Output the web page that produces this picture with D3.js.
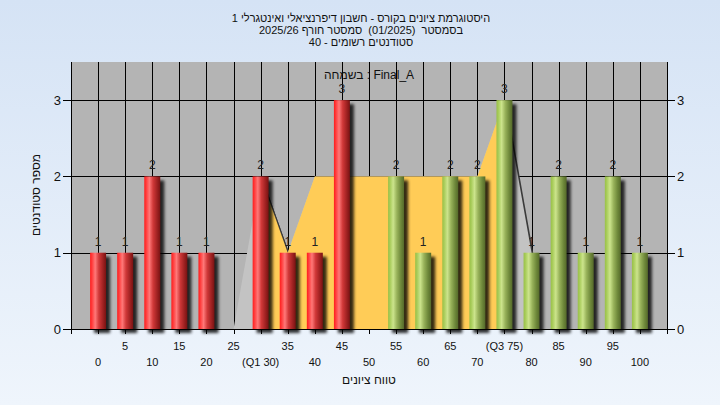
<!DOCTYPE html>
<html><head><meta charset="utf-8">
<script src="https://cdn.jsdelivr.net/npm/d3@7"></script>
<style>html,body{margin:0;padding:0;} svg{display:block;}</style>
</head><body>
<script>
const categories = [0,5,10,15,20,25,30,35,40,45,50,55,60,65,70,75,80,85,90,95,100];
const counts     = [1,1,2,1,1,0,2,1,1,3,0,2,1,2,2,3,1,2,1,2,1];
const tickLabels = ["0","5","10","15","20","25","(Q1 30)","35","40","45","50","55","60","65","70","(Q3 75)","80","85","90","95","100"];
const areaCategories = [25,30,35,40,45,50,55,60,65,70,75,80];
const areaValues     = [0,2,1,2,2,2,2,2,2,2,3,1];
const quartiles = [30, 75];
const passMark = 55;
const yTicks = [0,1,2,3];
const titleLines = [
  "היסטוגרמת ציונים בקורס - חשבון דיפרנציאלי ואינטגרלי 1",
  "בסמסטר  (01/2025)  סמסטר חורף 2025/26",
  "סטודנטים רשומים - 40"
];
const annotation = "בשמחה : Final_A";
const xTitle = "טווח ציונים";
const yTitle = "מספר סטודנטים";

const W = 720, H = 405;
const L = 71, R = 667, T = 62, B = 329;
const font = "'Liberation Sans','DejaVu Sans',Arial,sans-serif";

const svg = d3.select("body").append("svg").attr("width", W).attr("height", H);
const defs = svg.append("defs");
const bg = defs.append("linearGradient").attr("id","bg").attr("x1",0).attr("y1",0).attr("x2",0).attr("y2",1);
bg.append("stop").attr("offset","0%").attr("stop-color","#d5e3f5");
bg.append("stop").attr("offset","100%").attr("stop-color","#eff5fc");

function cyl(id, stops){
  const g = defs.append("linearGradient").attr("id",id).attr("x1",0).attr("y1",0).attr("x2",1).attr("y2",0);
  stops.forEach(s=>g.append("stop").attr("offset",s[0]).attr("stop-color",s[1]));
}
cyl("red", [["0%","#ff1c1c"],["12%","#ff3c3c"],["32%","#ff7878"],["55%","#d03838"],["80%","#a02222"],["100%","#781212"]]);
cyl("green", [["0%","#98c048"],["12%","#a8cc5a"],["32%","#cce48c"],["55%","#98b25a"],["80%","#6e883a"],["100%","#55692a"]]);
const f = defs.append("filter").attr("id","sh").attr("x","-50%").attr("y","-50%").attr("width","200%").attr("height","200%");
f.append("feGaussianBlur").attr("stdDeviation",1.8);
const f2 = defs.append("filter").attr("id","sh2");
f2.append("feGaussianBlur").attr("stdDeviation",0.6);
defs.append("clipPath").attr("id","plotclip").append("rect").attr("x",L).attr("y",T).attr("width",R-L).attr("height",B-T);

svg.append("rect").attr("width",W).attr("height",H).attr("fill","url(#bg)");

const x = d3.scaleLinear().domain([-1, categories.length]).range([L, R]);
const y = d3.scaleLinear().domain([0, 3.5]).range([B, T]);
const xi = c => x(categories.indexOf(c));
const slot = x(1) - x(0);
const bw = slot * 0.59;

// plot background
svg.append("rect").attr("x",L).attr("y",T).attr("width",R-L).attr("height",B-T).attr("fill","#b4b4b4");

// gridlines
const grid = svg.append("g").attr("stroke","#000").attr("stroke-width",1).attr("shape-rendering","crispEdges");
categories.forEach((c,i)=>grid.append("line").attr("x1",Math.round(x(i))+0.5).attr("x2",Math.round(x(i))+0.5).attr("y1",T).attr("y2",B));
yTicks.forEach(v=>grid.append("line").attr("x1",L).attr("x2",R).attr("y1",Math.round(y(v))+0.5).attr("y2",Math.round(y(v))+0.5));

// areas
const areaData = areaCategories.map((c,i)=>({c, v: areaValues[i]}));
const area = d3.area().x(d=>xi(d.c)).y0(B).y1(d=>y(d.v));
const ag = svg.append("g").attr("clip-path","url(#plotclip)");
const orangeData = areaData.filter(d=>d.c>=quartiles[0] && d.c<=quartiles[1]);
ag.append("path").datum(areaData).attr("d",area).attr("fill","#3a3a3a").attr("transform","translate(2,2)").attr("filter","url(#sh2)");
ag.append("path").datum(areaData).attr("d",area).attr("fill","#c3c3c3");
ag.append("path").datum(orangeData).attr("d",area).attr("fill","#3a3a3a").attr("transform","translate(2,2)").attr("filter","url(#sh2)");
ag.append("path").datum(orangeData).attr("d",area).attr("fill","#ffcc57");

// axes lines
const ax = svg.append("g").attr("stroke","#000").attr("stroke-width",1).attr("shape-rendering","crispEdges");
ax.append("line").attr("x1",L+0.5).attr("x2",L+0.5).attr("y1",T).attr("y2",B+1);
ax.append("line").attr("x1",R+0.5).attr("x2",R+0.5).attr("y1",T).attr("y2",B+1);
ax.append("line").attr("x1",L).attr("x2",R+1).attr("y1",B+0.5).attr("y2",B+0.5);
d3.range(-1, categories.length+1).forEach(k=>{
  const xx = Math.round(x(k))+0.5;
  ax.append("line").attr("x1",xx).attr("x2",xx).attr("y1",B).attr("y2",B+5);
});
yTicks.forEach(v=>{
  const yy = Math.round(y(v))+0.5;
  ax.append("line").attr("x1",L-8).attr("x2",L).attr("y1",yy).attr("y2",yy);
  ax.append("line").attr("x1",R).attr("x2",R+8).attr("y1",yy).attr("y2",yy);
});

// bars
const barData = categories.map((c,i)=>({c, i, v: counts[i]})).filter(d=>d.v>0);
const bars = svg.append("g");
bars.selectAll("rect.s").data(barData).enter().append("rect")
  .attr("x",d=>x(d.i)-bw/2+4).attr("y",d=>y(d.v)+4).attr("width",bw).attr("height",d=>B-y(d.v))
  .attr("fill","#000").attr("opacity",0.8).attr("filter","url(#sh)");
bars.selectAll("rect.b").data(barData).enter().append("rect")
  .attr("x",d=>x(d.i)-bw/2).attr("y",d=>y(d.v)).attr("width",bw).attr("height",d=>B-y(d.v))
  .attr("fill",d=>d.c>=passMark?"url(#green)":"url(#red)");
bars.selectAll("text").data(barData).enter().append("text")
  .attr("x",d=>x(d.i)).attr("y",d=>y(d.v)-7).attr("text-anchor","middle")
  .attr("font-family",font).attr("font-size",12).attr("fill","#222").text(d=>d.v);

// text
const txt = (s, xx, yy, size, anchor, extra) => {
  const t = svg.append("text").attr("x",xx).attr("y",yy).attr("font-family",font).attr("font-size",size)
    .attr("fill","#111").attr("text-anchor",anchor||"middle").text(s);
  if (extra) extra(t);
  return t;
};
titleLines.forEach((s,i)=>txt(s, 361, 21.5+i*12, 11, "middle", t=>t.attr("direction","rtl").style("unicode-bidi","plaintext").style("white-space","pre")));
txt(annotation, 369, 79, 12, "middle");
categories.forEach((c,i)=>{
  txt(tickLabels[i], x(i), i%2===1 ? 350 : 366, 11, "middle");
});
txt(xTitle, 369, 384, 12, "middle");
svg.append("text").attr("transform","translate(40,195) rotate(-90)").attr("text-anchor","middle")
  .attr("font-family",font).attr("font-size",12).attr("fill","#111").text(yTitle);
yTicks.forEach(v=>{
  txt(String(v), L-10, y(v)+4.5, 13, "end");
  txt(String(v), R+10, y(v)+4.5, 13, "start");
});
</script>
</body></html>
